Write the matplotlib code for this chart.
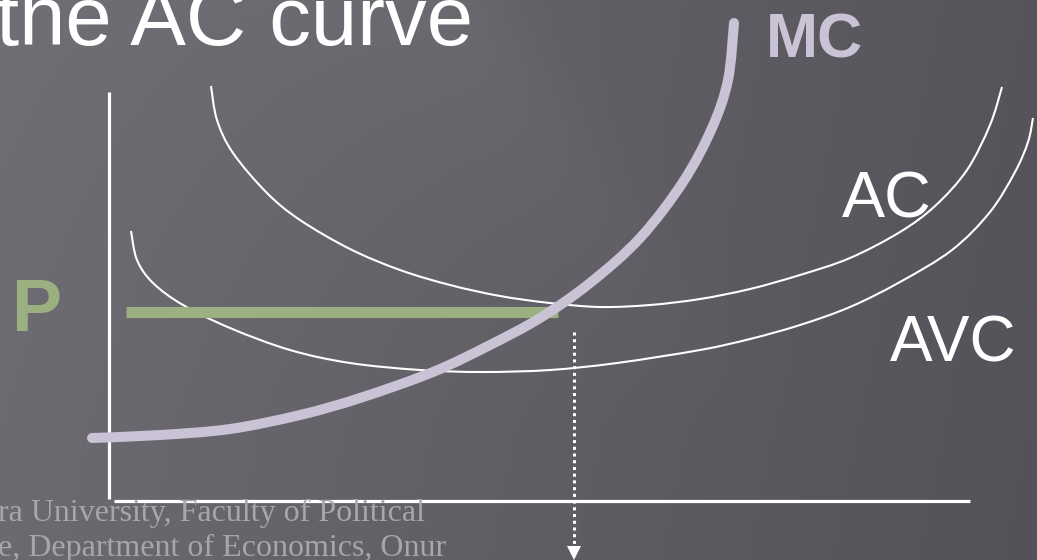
import numpy as np
import matplotlib
matplotlib.use("Agg")
import matplotlib.pyplot as plt
from matplotlib.path import Path
from matplotlib.patches import PathPatch

# ---- curve data (slide pixel space: x to the right, y downward) ----
ac_x = [211, 217, 233, 267, 300, 350, 400, 450, 500, 550, 600, 650, 700, 750,
        800, 850, 900, 935, 967, 990, 1002]
ac_y = [86, 120, 153, 193, 220, 249, 270, 285, 296, 303, 307, 305, 299, 289,
        275, 258, 232, 206, 170, 125, 87]

avc_x = [131, 137, 153, 183, 230, 290, 350, 420, 483, 550, 617, 700, 750, 800,
         850, 900, 952, 990, 1015, 1028, 1033]
avc_y = [231, 260, 283, 305, 328, 350, 363, 370, 372, 370, 363, 350, 339, 325,
         307, 282, 250, 212, 172, 142, 118]

mc_x = [92, 160, 230, 300, 360, 433, 490, 540, 590, 640, 683, 712, 728, 734]
mc_y = [438, 435, 429, 415, 398, 372, 345, 318, 283, 238, 182, 128, 80, 23]

price_level = 312
price_x = [126, 558]
quantity_x = 574
quantity_y = [332, 549]

# axis lines
y_axis_x, y_axis_y = [109, 109], [92, 499]
x_axis_x, x_axis_y = [114, 970], [501, 501]

title_text = "the AC curve"
footer_lines = ["ra University, Faculty of Political",
                "e, Department of Economics, Onur"]


def smooth_path(xs, ys):
    """Cubic Bezier path passing through every given point (Catmull-Rom handles)."""
    p = np.column_stack([xs, ys]).astype(float)
    verts = [p[0]]
    codes = [Path.MOVETO]
    n = len(p)
    for i in range(n - 1):
        p0 = p[i - 1] if i > 0 else p[i]
        p1, p2 = p[i], p[i + 1]
        p3 = p[i + 2] if i + 2 < n else p[i + 1]
        c1 = p1 + (p2 - p0) / 6.0
        c2 = p2 - (p3 - p1) / 6.0
        verts += [c1, c2, p2]
        codes += [Path.CURVE4] * 3
    return Path(verts, codes)


W, H = 1037, 560
fig = plt.figure(figsize=(W / 100, H / 100), dpi=100)
ax = fig.add_axes([0, 0, 1, 1])
ax.set_xlim(0, W)
ax.set_ylim(H, 0)
ax.axis("off")

# ---- slide background: dark grey with a soft diagonal light band ----
xx, yy = np.meshgrid(np.arange(W) + 0.5, np.arange(H) + 0.5)
v = 0.435 - 0.095 * (xx / W) - 0.01 * (yy / H)
ux, uy = 0.83, -0.55          # normal of the band edge
d = (xx - 560) * ux + (yy - 110) * uy
band = 1 / (1 + np.exp(d / 18)) * np.exp(-np.clip(-d, 0, None) / 260)
band *= np.clip(1 - yy / 420, 0, 1)
v = v + 0.035 * band
bg = np.dstack([v, v - 0.008, v + 0.018])
ax.imshow(np.clip(bg, 0, 1), extent=[0, W, H, 0], aspect="auto",
          interpolation="bilinear", zorder=0)

white = "#ffffff"
lav = "#c9c3d5"
green = "#9bb081"

ax.plot(y_axis_x, y_axis_y, color=white, lw=2.3, solid_capstyle="butt", zorder=2)
ax.plot(x_axis_x, x_axis_y, color=white, lw=2.3, solid_capstyle="butt", zorder=2)

ax.add_patch(PathPatch(smooth_path(ac_x, ac_y), fill=False, edgecolor=white,
                       lw=1.5, capstyle="butt", zorder=3))
ax.add_patch(PathPatch(smooth_path(avc_x, avc_y), fill=False, edgecolor=white,
                       lw=1.5, capstyle="butt", zorder=3))

ax.plot(price_x, [price_level, price_level], color=green, lw=8,
        solid_capstyle="butt", zorder=4)
ax.add_patch(PathPatch(smooth_path(mc_x, mc_y), fill=False, edgecolor=lav,
                       lw=7.2, capstyle="round", joinstyle="round", zorder=5))

ax.plot([quantity_x, quantity_x], quantity_y, color=white, lw=2.2,
        linestyle=(0, (1, 1.2)), zorder=3)
ax.plot([quantity_x], [553], marker="v", markersize=10, color=white,
        markeredgewidth=0, zorder=3)

sans = ["Liberation Sans", "DejaVu Sans"]
ax.text(473, 45, title_text, ha="right", va="baseline", fontsize=60,
        color=white, family=sans, zorder=6)
ax.text(766, 58, "MC", ha="left", va="baseline", fontsize=45,
        fontweight="bold", color=lav, family=sans, zorder=6)
ax.text(842, 218, "AC", ha="left", va="baseline", fontsize=46.5,
        color=white, family=sans, zorder=6)
ax.text(890, 362, "AVC", ha="left", va="baseline", fontsize=46,
        color=white, family=sans, zorder=6)
ax.text(12, 331, "P", ha="left", va="baseline", fontsize=54,
        fontweight="bold", color=green, family=sans, zorder=6)

serif = ["Liberation Serif", "DejaVu Serif"]
ax.text(-2, 521, footer_lines[0], ha="left", va="baseline", fontsize=23,
        color="#a7a6aa", family=serif, zorder=6)
ax.text(-2, 556, footer_lines[1], ha="left", va="baseline", fontsize=23,
        color="#a7a6aa", family=serif, zorder=6)

fig.savefig("out.png", dpi=100)
